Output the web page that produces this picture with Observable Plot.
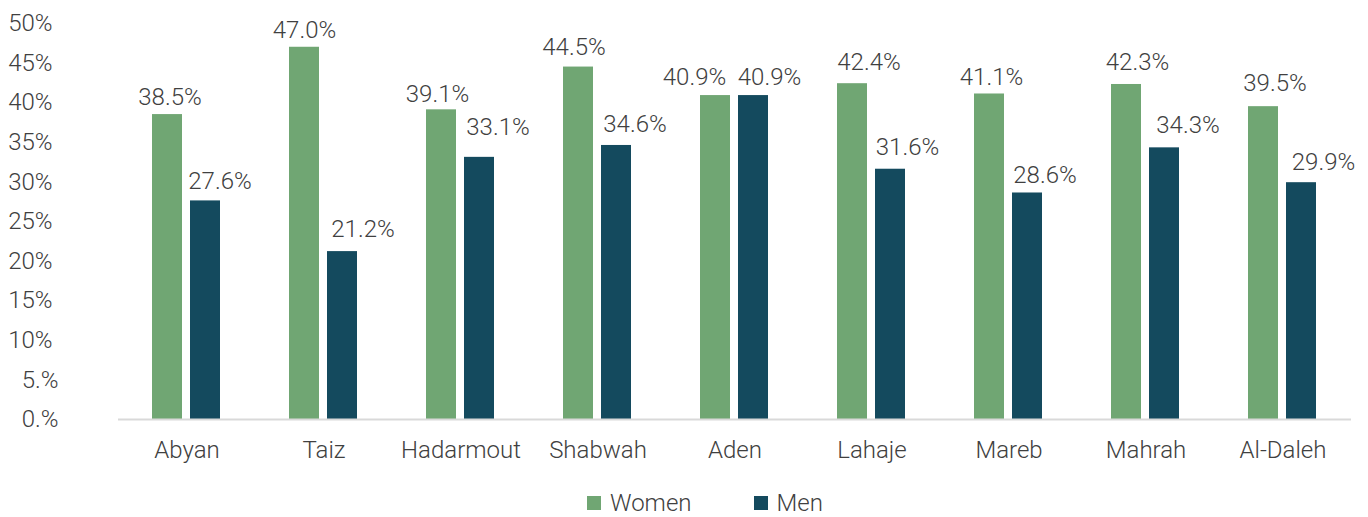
<!DOCTYPE html>
<html>
<head>
<meta charset="utf-8">
<script src="https://cdn.jsdelivr.net/npm/d3@7"></script>
<script src="https://cdn.jsdelivr.net/npm/@observablehq/plot@0.6"></script>
<style>
  body { margin: 0; background: #fff; font-family: Roboto, sans-serif; font-weight: 300; }
  #wrap { position: relative; width: 1368px; height: 517px; }
  #legend { position: absolute; left: 587px; top: 489px; height: 28px; display: flex; align-items: center; font-size: 24px; line-height: 28px; color: #404040; }
  .sw { width: 14px; height: 14px; display: inline-block; margin-right: 9px; }
  .item { display: flex; align-items: center; margin-right: 62px; }
</style>
</head>
<body>
<div id="wrap">
  <div id="chart"></div>
  <div id="legend"></div>
</div>
<script>
const regions = ["Abyan", "Taiz", "Hadarmout", "Shabwah", "Aden", "Lahaje", "Mareb", "Mahrah", "Al-Daleh"];
const genders = ["Women", "Men"];
const women = [38.5, 47.0, 39.1, 44.5, 40.9, 42.4, 41.1, 42.3, 39.5];
const men = [27.6, 21.2, 33.1, 34.6, 40.9, 31.6, 28.6, 34.3, 29.9];
const yTicks = [0, 5, 10, 15, 20, 25, 30, 35, 40, 45, 50];
const yTickLabels = ["0.%", "5.%", "10%", "15%", "20%", "25%", "30%", "35%", "40%", "45%", "50%"];
const colors = ["#70a673", "#144a5e"];

// Layout: nudges of the data labels as placed in the original (pixels)
const womenLabelDx = [2.5, 0, -4, -4.5, -21, 16.5, 2, 11, 11.5];
const womenLabelGap = [17, 17, 16, 20, 18, 21, 17, 22, 23];
const menLabelDx = [14.5, 20.5, 18.5, 18.5, 16, 17, 17.5, 23.5, 22];
const menLabelGap = [20, 22, 30, 21, 18, 22, 18, 23, 20];

const data = [];
regions.forEach((r, i) => {
  data.push({region: r, gender: "Women", value: women[i], dx: womenLabelDx[i], gap: womenLabelGap[i]});
  data.push({region: r, gender: "Men", value: men[i], dx: menLabelDx[i], gap: menLabelGap[i]});
});

const fmt = d => yTickLabels[yTicks.indexOf(d)];
const labelMarks = data.map(d => Plot.text([d], {
  fx: "region", x: "gender", y: "value",
  text: v => v.value.toFixed(1) + "%",
  lineAnchor: "middle", dx: d.dx, dy: -d.gap,
  fill: "#404040", fontSize: 24
}));

const chart = Plot.plot({
  width: 1368,
  height: 470,
  marginLeft: 118,
  marginRight: 17,
  marginTop: 23,
  marginBottom: 51,
  style: {fontFamily: "Roboto, sans-serif", fontWeight: 300, fontSize: "24px", color: "#404040"},
  fx: {domain: regions, padding: 0, label: null, tickSize: 0, tickPadding: 21},
  x: {domain: genders, axis: null, paddingInner: 0.2, paddingOuter: 0.86},
  y: {domain: [0, 50], axis: null},
  color: {domain: genders, range: colors},
  marks: [
    Plot.axisY(yTicks.filter(t => t >= 10), {tickSize: 0, tickPadding: 66, tickFormat: fmt, label: null, fill: "#404040"}),
    Plot.axisY(yTicks.filter(t => t < 10), {tickSize: 0, tickPadding: 60, tickFormat: fmt, label: null, fill: "#404040"}),
    Plot.barY(data, {fx: "region", x: "gender", y: "value", fill: "gender"}),
    Plot.ruleY([0], {stroke: "#d9d9d9", strokeWidth: 2}),
    ...labelMarks
  ]
});
document.getElementById("chart").appendChild(chart);

const legend = document.getElementById("legend");
genders.forEach((g, i) => {
  const item = document.createElement("div");
  item.className = "item";
  const sw = document.createElement("span");
  sw.className = "sw";
  sw.style.background = colors[i];
  item.appendChild(sw);
  item.appendChild(document.createTextNode(g));
  legend.appendChild(item);
});
</script>
</body>
</html>
